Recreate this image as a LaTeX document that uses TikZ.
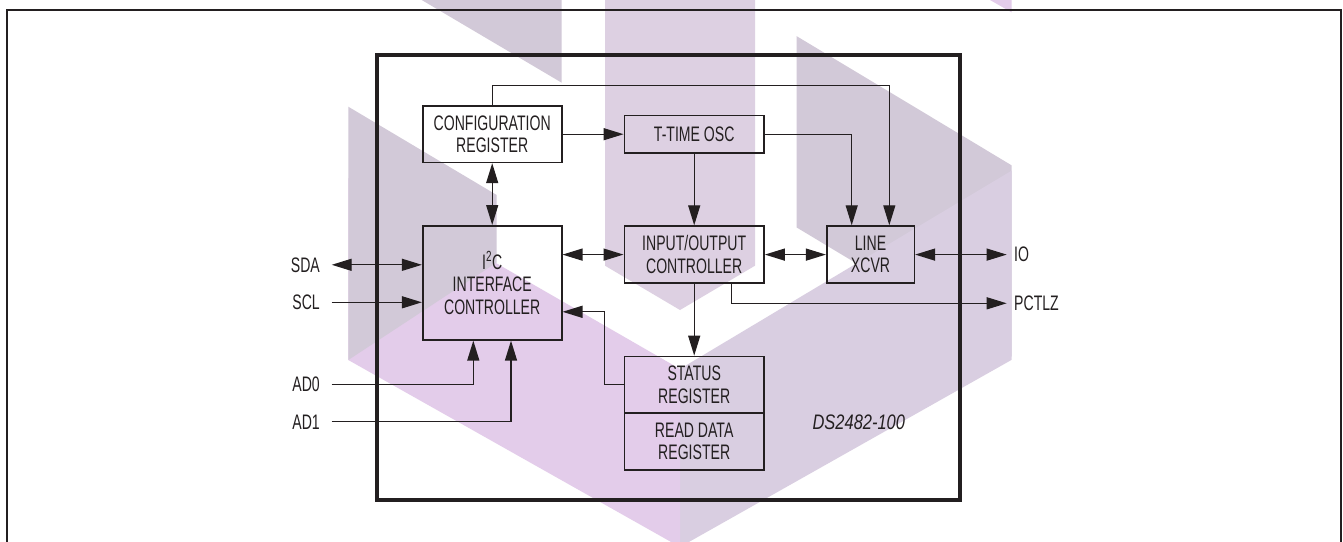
\documentclass[tikz,border=0pt]{standalone}
\usepackage{fontspec}
\setmainfont{Liberation Sans}[FakeStretch=0.67]
\usetikzlibrary{arrows.meta}
\definecolor{ink}{HTML}{231F20}
\definecolor{wmgrey}{RGB}{210,201,216}
\definecolor{wmmid}{RGB}{221,208,226}
\definecolor{wmpurple}{RGB}{227,204,234}
\definecolor{wmlav}{RGB}{217,206,225}
\tikzset{
  txt/.style={font=\fontsize{21pt}{22.5pt}\selectfont, text=ink},
  box/.style={txt, draw=ink, line width=1.6pt, align=center, inner sep=0pt},
  lbl/.style={txt, inner sep=0pt},
  conn/.style={draw=ink, line width=1.3pt},
  arr/.style={conn, -{Triangle[length=20pt,width=12pt]}},
  darr/.style={conn, {Triangle[length=20pt,width=12pt]}-{Triangle[length=20pt,width=12pt]}},
}
\begin{document}
\begin{tikzpicture}[x=1pt,y=-1pt]
\useasboundingbox (0,0) rectangle (1343,541);
\fill[white] (0,0) rectangle (1343,541);
% watermark
\begin{scope}
\clip (0,0) rectangle (1343,541);
\fill[wmgrey] (421.7,0) -- (561.7,0) -- (561.7,82.7) -- cycle;
\fill[wmpurple] (990,0) -- (1011.7,0) -- (1011.7,12.4) -- cycle;
\fill[wmmid] (605,0) -- (755,0) -- (755,265.7) -- (680,310) -- (605,265.7) -- cycle;
\fill[wmgrey] (796.7,36.2) -- (1011.7,165.4) -- (1011.7,356.7) -- (796.7,227.5) -- cycle;
\fill[wmlav] (680,369) -- (1011.7,170.6) -- (1011.7,359.8) -- (680,547) -- cycle;
\fill[wmpurple] (348.3,178) -- (680,369) -- (680,547) -- (348.3,360) -- cycle;
\fill[wmgrey] (348.3,106.7) -- (496.7,195) -- (496.7,262.5) -- (348.3,360) -- cycle;
\end{scope}
% frames
\draw[ink, line width=2pt] (7,545) -- (7,9.6) -- (1340.8,9.6) -- (1340.8,545);
\node[draw=ink, line width=4pt, minimum width=582.7pt, minimum height=444.6pt, inner sep=0pt] (chip) at (668.65,277.4) {};
% blocks
\node[box, minimum width=139pt, minimum height=56.4pt] (cfg) at (492.2,134.2) {CONFIGURATION\\REGISTER};
\node[box, minimum width=139.7pt, minimum height=37.2pt] (tosc) at (694.2,134.2) {T-TIME OSC};
\node[box, minimum width=139pt, minimum height=114pt] (i2c) at (492.2,282.8) {I\textsuperscript{2}C\\INTERFACE\\CONTROLLER};
\node[box, minimum width=139.7pt, minimum height=57pt] (io) at (694.2,254.6) {INPUT/OUTPUT\\CONTROLLER};
\node[box, minimum width=87.6pt, minimum height=57pt] (line) at (870.5,254.6) {LINE\\XCVR};
\node[box, minimum width=139.7pt, minimum height=56.8pt] (stat) at (694.2,384.8) {STATUS\\REGISTER};
\node[box, minimum width=139.7pt, minimum height=56.8pt] (rdr) at (694.2,441.6) {READ DATA\\REGISTER};
% pin labels
\node[lbl, anchor=east] (sda) at (320,264.8) {SDA};
\node[lbl, anchor=east] (scl) at (320,302.3) {SCL};
\node[lbl, anchor=east] (ad0) at (320,384.4) {AD0};
\node[lbl, anchor=east] (ad1) at (320,421.8) {AD1};
\node[lbl, anchor=west] (iolbl) at (1014,254.6) {IO};
\node[lbl, anchor=west] (pctlz) at (1014,303.3) {PCTLZ};
\node[lbl, font=\fontsize{21pt}{22.5pt}\selectfont\itshape] (part) at (858.8,422.5) {\scalebox{1.17}[1]{DS2482-100}};
% bend points
\coordinate (tr) at (889.3,85.8);
\coordinate (tl2) at (851.7,134.2);
\coordinate (pc) at (731.7,303.3);
\coordinate (sb) at (604.3,311.8);
% connectors
\draw[arr] (cfg.north) |- (tr) -- (tr |- line.north);
\draw[arr] (cfg.east) -- (cfg.east -| tosc.west);
\draw[arr] (tosc.east) -- (tl2) -- (tl2 |- line.north);
\draw[arr] (tosc.south) -- (io.north);
\draw[darr] (cfg.south) -- (i2c.north);
\draw[darr] (io.west -| i2c.east) -- (io.west);
\draw[darr] (io.east) -- (line.west);
\draw[darr] (line.east) -- ([xshift=-7.3pt]iolbl.west);
\draw[arr] (pc |- io.south) -- (pc) -- ([xshift=-7.3pt]pctlz.west);
\draw[arr] (io.south) -- (stat.north);
\draw[arr] (stat.west) -| (sb) -- (sb -| i2c.east);
\draw[darr] ([xshift=11.7pt]sda.east) -- (sda.east -| i2c.west);
\draw[arr] ([xshift=11.7pt]scl.east) -- (scl.east -| i2c.west);
\draw[arr] ([xshift=11.7pt]ad0.east) -| ([xshift=-18.9pt]i2c.south);
\draw[arr] ([xshift=11.7pt]ad1.east) -| ([xshift=18.8pt]i2c.south);
\end{tikzpicture}
\end{document}
